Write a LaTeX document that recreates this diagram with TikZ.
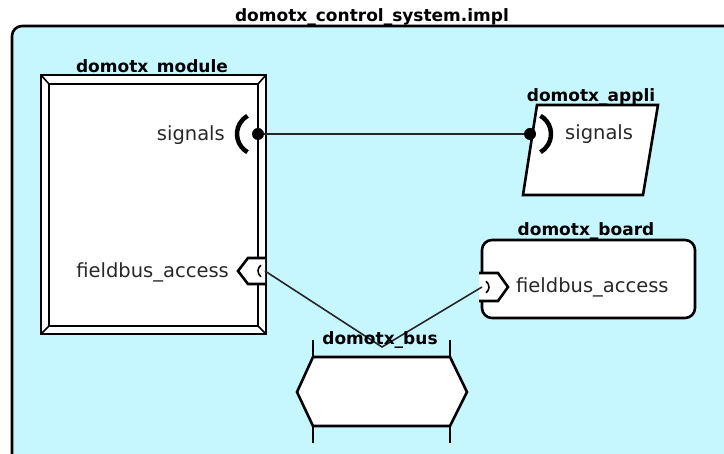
\documentclass[tikz,border=0pt]{standalone}
\usepackage{fontspec}
\setmainfont{DejaVu Sans}
\definecolor{implfill}{RGB}{198,247,255}
\definecolor{labelgray}{RGB}{40,40,40}
\tikzset{
  title/.style={font=\fontsize{17}{19}\selectfont\bfseries, inner sep=0pt, anchor=base},
  portlabel/.style={font=\fontsize{19.5}{22}\selectfont, text=labelgray, inner sep=0pt, anchor=base},
  frame/.style={draw=black, line width=2.6pt, line join=miter},
  wire/.style={draw=black!85, line width=1.6pt},
  socket/.style={draw=black, line width=4.5pt},
  pin/.style={fill=black},
}
\begin{document}
\begin{tikzpicture}[x=1pt,y=-1pt]
\useasboundingbox (0,0) rectangle (724,454);
\begin{scope}
\clip (0,0) rectangle (724,454);
% system implementation container
\path[frame, fill=implfill, rounded corners=10pt] (12,26) rectangle (740,470);
\end{scope}
\node[title] (sysTitle) at (372,22) {domotx\_control\_system.impl};

% domotx_module: beveled double frame
\filldraw[frame, fill=white] (41,75) rectangle (266,334);
\draw[frame] (49,84) rectangle (258,326);
\draw[line width=1.6pt] (41,75)--(49,84) (266,75)--(258,84) (41,334)--(49,326) (266,334)--(258,326);
\node[title] (modTitle) at (152,73) {domotx\_module};

% module ports
\coordinate (modSig) at (258,134);
\draw[socket] ([shift={(120:21)}]modSig) arc (120:240:21);
\node[portlabel, anchor=base east] (modSigLbl) at (225,141) {signals};

\filldraw[frame, fill=white] (265,258) -- (248,258) -- (238,271) -- (248,284) -- (265,284);
\coordinate (modBus) at (265,271);
\draw[line width=1.6pt] ([shift={(125:7)}]modBus) arc (125:235:7);
\node[portlabel, anchor=base east] (modBusLbl) at (229,278) {fieldbus\_access};

% domotx_appli: parallelogram
\filldraw[frame, fill=white] (537,105) -- (658,105) -- (643,195) -- (523,195) -- cycle;
\node[title] (appTitle) at (591,102) {domotx\_appli};
\coordinate (appSig) at (530,134);
\draw[socket] ([shift={(-60:21)}]appSig) arc (-60:60:21);
\node[portlabel, anchor=base west] (appSigLbl) at (565,140) {signals};

% domotx_board: rounded box
\filldraw[frame, fill=white, rounded corners=10pt] (482,240) rectangle (695,318);
\node[title] (brdTitle) at (586,236) {domotx\_board};
\filldraw[frame, fill=white] (479,273) -- (498,273) -- (508,287) -- (498,301) -- (479,301);
\coordinate (brdBus) at (482,287);
\draw[line width=1.6pt] ([shift={(-55:7)}]brdBus) arc (-55:55:7);
\node[portlabel, anchor=base west] (brdBusLbl) at (516,293) {fieldbus\_access};

% domotx_bus
\filldraw[frame, fill=white] (313,357) -- (450,357) -- (467,392) -- (450,426) -- (313,426) -- (297,392) -- cycle;
\draw[line width=2.6pt] (313,340) -- (313,357) (450,340) -- (450,357) (313,426) -- (313,443) (450,426) -- (450,443);
\coordinate (busJoin) at (382,347);

% connections
\draw[wire] (modSig) -- (appSig);
\draw[wire] (modBus) -- (busJoin) -- (brdBus);
\fill[pin] (modSig) circle (6);
\fill[pin] (appSig) circle (6);
\node[title] (busTitle) at (380,345) {domotx\_bus};
\end{tikzpicture}
\end{document}
